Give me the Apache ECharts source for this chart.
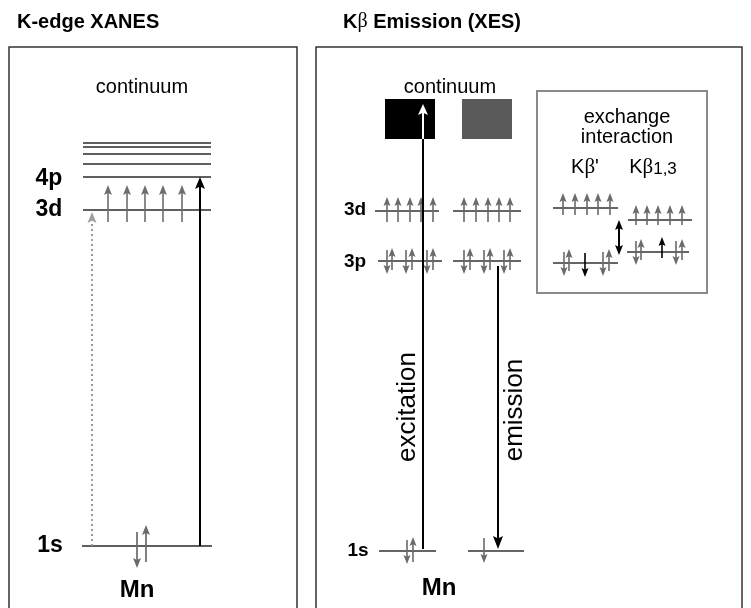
<!DOCTYPE html>
<html><head><meta charset="utf-8">
<script src="https://cdn.jsdelivr.net/npm/echarts@6/dist/echarts.min.js"></script>
<style>html,body{margin:0;padding:0;background:#fff}#c{width:751px;height:608px}</style>
</head><body><div id="c"></div>
<script>
// ---------- DATA (diagram coordinates: x across, y = energy axis, downward) ----------
const panelTitles = ['K-edge XANES', '{b|K}{g|β}{b| Emission (XES)}'];
const panelTitlePos = [[17, 22], [343, 22]];
const panelFrames = [[9, 47, 297, 615], [316, 47, 742, 615]];

// K-edge XANES panel
const xanesLevels = [[83, 211, 143], [83, 211, 147], [83, 211, 154], [83, 211, 164], [83, 211, 177], [83, 211, 210], [82, 212, 546]];
const xanesLevelNames = ['4p', '3d', '1s'];
const xanesLevelNamePos = [[49, 179], [49, 210], [50, 546]];
const xanes3dUp = [[108, 222, 185], [127, 222, 185], [145, 222, 185], [163, 222, 185], [182, 222, 185]];
const xanes1sSpins = [[137, 532, 568], [146, 562, 525]];
const xanesPreEdge = [[92, 546, 212]];
const xanesEdge = [[200, 546, 177]];

// Kβ emission panel
const xesLevels = [[375, 439, 211], [453, 521, 211], [378, 442, 261], [453, 521, 261], [379, 436, 551], [468, 524, 551]];
const xesLevelNames = ['3d', '3p', '1s'];
const xesLevelNamePos = [[355, 210], [355, 262], [358, 551]];
const xes3dUp = [[387, 222, 197], [398, 222, 197], [410, 222, 197], [421, 222, 197], [433, 222, 197],
                 [464, 222, 197], [476, 222, 197], [488, 222, 197], [499, 222, 197], [510, 222, 197]];
const xes3pDown = [[387, 250, 274], [406, 250, 274], [427, 250, 274], [464, 250, 274], [484, 250, 274], [504, 250, 274]];
const xes3pUp = [[392, 270, 248], [412, 270, 248], [433, 270, 248], [470, 270, 248], [490, 270, 248], [510, 270, 248]];
const xes1sSpins = [[407, 540, 564], [413, 562, 537], [484, 538, 563]];
const continuumBlocks = [[385, 99, 435, 139], [462, 99, 512, 139]];
const excitationPath = [[423, 549, 139]];
const excitationTip = [[423, 139, 104]];
const emissionPath = [[498, 266, 549]];

// exchange interaction inset
const insetFrame = [[537, 91, 707, 293]];
const insetLevels = [[553, 618, 208], [553, 618, 263], [628, 692, 220], [627, 689, 252]];
const inset3dUp = [[563, 215, 193], [575, 215, 193], [587, 215, 193], [598, 215, 193], [610, 215, 193],
                   [636, 225, 205], [647, 225, 205], [658, 225, 205], [670, 225, 205], [682, 225, 205]];
const inset3pGray = [[564, 252, 276], [569, 271, 249], [603, 252, 276], [609, 271, 249],
                     [636, 241, 265], [641, 260, 239], [676, 241, 265], [682, 260, 239]];
const inset3pHole = [[585, 253, 277], [662, 258, 237]];
const insetSplitting = [[619, 220, 255]];

// text labels
const continuumLabels = ['continuum', 'continuum'];
const continuumLabelPos = [[142, 87], [450, 87]];
const elementLabels = ['Mn', 'Mn'];
const elementLabelPos = [[137, 590], [439, 588]];
const transitionLabels = ['excitation', 'emission'];
const transitionLabelPos = [[408, 407], [515, 410]];
const insetTexts = ['exchange', 'interaction', '{t|K}{g|β}{t|\'}', '{t|K}{g|β}{s|1,3}'];
const insetTextPos = [[627, 117], [627, 137], [585, 167], [653, 167]];

// ---------- RENDERING ----------
const SANS = '"Liberation Sans", Arial, Helvetica, sans-serif';
const SERIF = '"Liberation Serif", "DejaVu Serif", serif';

function base(data, z, renderItem) {
  return {type: 'custom', coordinateSystem: 'cartesian2d', data: data, z: z, silent: true,
          animation: false, clip: false, renderItem: renderItem};
}
function levelSeries(data, color, lw, z) {
  return base(data, z || 2, function (p, api) {
    const a = api.coord([api.value(0), api.value(2)]);
    const b = api.coord([api.value(1), api.value(2)]);
    return {type: 'line', shape: {x1: a[0], y1: a[1], x2: b[0], y2: b[1]},
            style: {stroke: color, lineWidth: lw}};
  });
}
function rectSeries(data, style, z) {
  return base(data, z || 1, function (p, api) {
    const a = api.coord([api.value(0), api.value(1)]);
    const b = api.coord([api.value(2), api.value(3)]);
    return {type: 'rect', shape: {x: a[0], y: a[1], width: b[0] - a[0], height: b[1] - a[1]},
            style: style};
  });
}
function headPoly(x, y, dir, o) {
  const L = o.headLen, w = o.headW / 2, n = L * (o.notch == null ? 0.2 : o.notch);
  return {type: 'polygon', shape: {points: [[x, y], [x - w, y - dir * L], [x, y - dir * (L - n)], [x + w, y - dir * L]]},
          style: {fill: o.headColor || o.color}};
}
function arrowSeries(data, o) {
  return base(data, o.z || 3, function (p, api) {
    const x = api.value(0);
    const a = api.coord([x, api.value(1)]);
    const b = api.coord([x, api.value(2)]);
    const dir = Math.sign(b[1] - a[1]);
    const end = o.head ? b[1] - dir * o.headLen * 0.75 : b[1];
    const start = o.double ? a[1] + dir * o.headLen * 0.75 : a[1];
    const ch = [{type: 'line', shape: {x1: a[0], y1: start, x2: b[0], y2: end},
                 style: {stroke: o.color, lineWidth: o.lw, lineDash: o.dash || null}}];
    if (o.head) ch.push(headPoly(b[0], b[1], dir, o));
    if (o.double) ch.push(headPoly(a[0], a[1], -dir, o));
    return {type: 'group', children: ch};
  });
}
function textSeries(texts, pos, st, z) {
  return base(pos, z || 5, function (p, api) {
    const c = api.coord([api.value(0), api.value(1)]);
    return {type: 'text', x: c[0], y: c[1], rotation: st.rotation || 0,
            style: Object.assign({text: texts[p.dataIndex], align: st.align || 'center', verticalAlign: 'middle',
                                  fill: st.fill || '#000', font: st.font}, st.rich ? {rich: st.rich} : {})};
  });
}

const gray = '#6a6a6a';
const eSmall = {color: gray, lw: 1.6, head: true, headLen: 9, headW: 7};
const eBlack = {color: '#000', lw: 1.6, head: true, headLen: 9, headW: 7};

const option = {
  backgroundColor: '#fff',
  animation: false,
  grid: {left: 0, right: 0, top: 0, bottom: 0},
  xAxis: {type: 'value', min: 0, max: 751, show: false},
  yAxis: {type: 'value', min: 0, max: 608, inverse: true, show: false},
  series: [
    rectSeries(panelFrames, {fill: 'none', stroke: '#333', lineWidth: 1.5}, 1),
    rectSeries(insetFrame, {fill: 'none', stroke: '#8a8a8a', lineWidth: 2}, 1),
    rectSeries([continuumBlocks[0]], {fill: '#000'}, 1),
    rectSeries([continuumBlocks[1]], {fill: '#5a5a5a'}, 1),

    levelSeries(xanesLevels, '#2a2a2a', 1.7),
    levelSeries(xesLevels, '#333', 1.7),
    levelSeries(insetLevels, '#333', 1.7),

    arrowSeries(xanes3dUp, {color: '#6e6e6e', lw: 1.6, head: true, headLen: 10, headW: 8}),
    arrowSeries(xanes1sSpins, {color: gray, lw: 1.7, head: true, headLen: 10, headW: 8}),
    arrowSeries(xanesPreEdge, {color: '#9a9a9a', lw: 2, dash: [2, 3], head: true, headLen: 11, headW: 9, headColor: '#a0a0a0'}),
    arrowSeries(xanesEdge, {color: '#000', lw: 2, head: true, headLen: 12, headW: 10}),

    arrowSeries(xes3dUp, eSmall),
    arrowSeries(xes3pDown, eSmall),
    arrowSeries(xes3pUp, eSmall),
    arrowSeries(xes1sSpins, eSmall),
    arrowSeries(excitationPath, {color: '#000', lw: 2, head: false}),
    arrowSeries(excitationTip, {color: '#fff', lw: 2, head: true, headLen: 11, headW: 10, z: 4}),
    arrowSeries(emissionPath, {color: '#000', lw: 2, head: true, headLen: 13, headW: 10}),

    arrowSeries(inset3dUp, eSmall),
    arrowSeries(inset3pGray, eSmall),
    arrowSeries(inset3pHole, eBlack),
    arrowSeries(insetSplitting, {color: '#000', lw: 2, head: true, double: true, headLen: 10, headW: 8}),

    textSeries([panelTitles[0]], [panelTitlePos[0]], {font: 'bold 20px ' + SANS, align: 'left'}),
    textSeries([panelTitles[1]], [panelTitlePos[1]], {font: 'bold 20px ' + SANS, align: 'left',
      rich: {b: {font: 'bold 20px ' + SANS}, g: {font: '20px ' + SERIF}}}),
    textSeries(xanesLevelNames, xanesLevelNamePos, {font: 'bold 23px ' + SANS}),
    textSeries(xesLevelNames, xesLevelNamePos, {font: 'bold 19px ' + SANS}),
    textSeries(continuumLabels, continuumLabelPos, {font: '20px ' + SANS}),
    textSeries(elementLabels, elementLabelPos, {font: 'bold 24px ' + SANS}),
    textSeries(transitionLabels, transitionLabelPos, {font: '26px ' + SANS, rotation: Math.PI / 2}),
    textSeries(insetTexts, insetTextPos, {font: '20px ' + SANS,
      rich: {t: {font: '20px ' + SANS}, g: {font: '21px ' + SERIF}, s: {font: '17px ' + SANS, verticalAlign: 'bottom'}}})
  ]
};
const chart = echarts.init(document.getElementById('c'), null, {renderer: 'canvas', width: 751, height: 608});
chart.setOption(option);
</script>
</body></html>
